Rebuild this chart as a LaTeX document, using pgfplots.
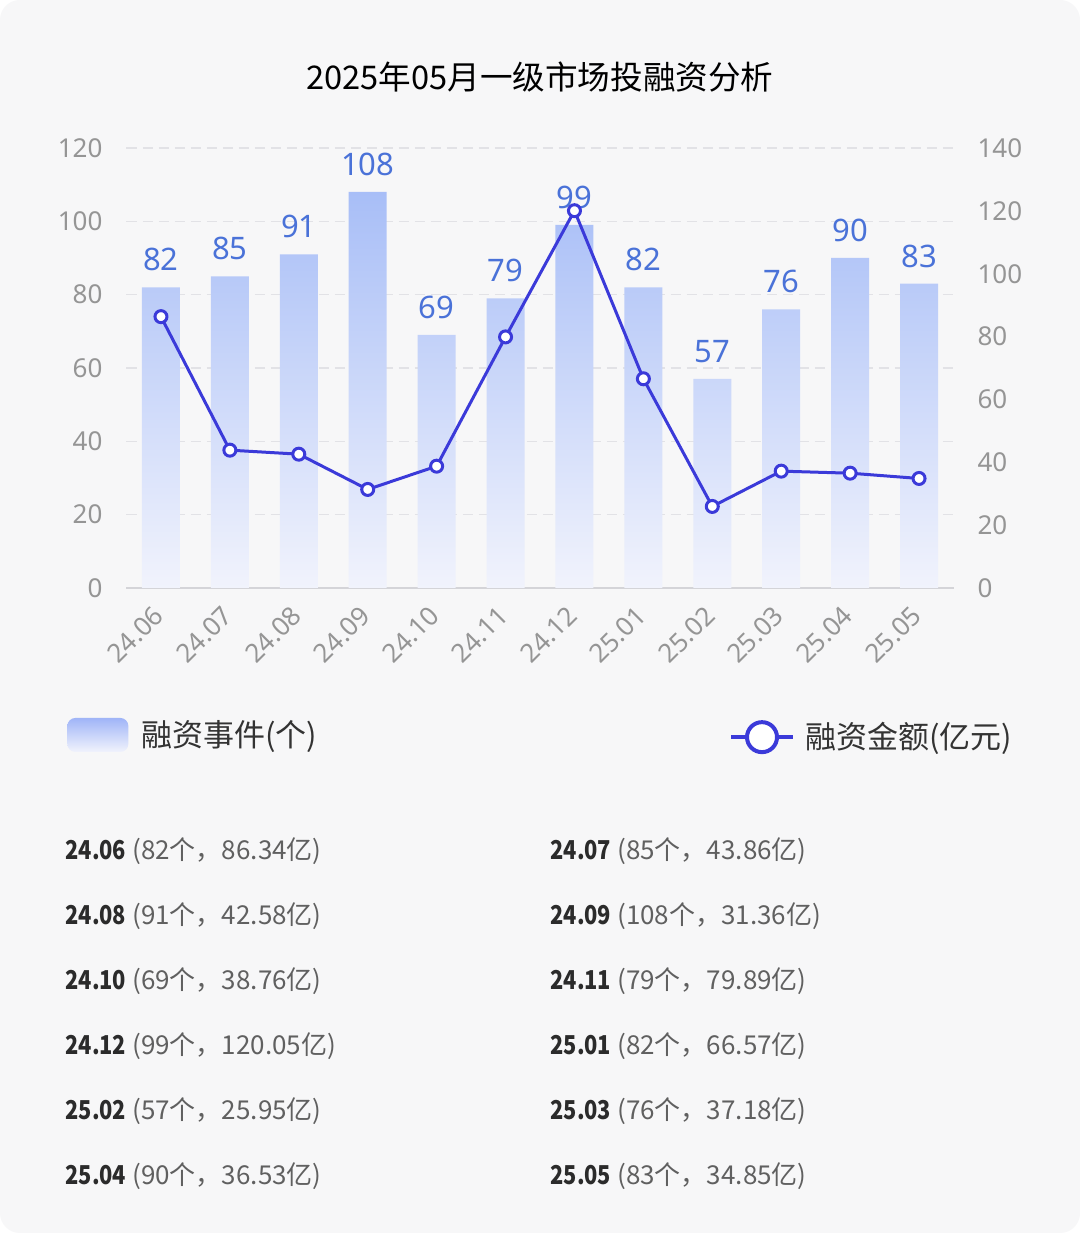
\documentclass[border=0pt]{standalone}
\usepackage{pgfplots}
\pgfplotsset{compat=1.18}
\usepackage{graphicx}
\usepackage{fontspec}
\setmainfont{Noto Sans CJK SC}
\newfontfamily\latin{Noto Sans}

\definecolor{bg}{HTML}{F7F7F8}
\definecolor{bartop}{HTML}{A8BEF7}
\definecolor{barbot}{HTML}{F1F3FC}
\definecolor{lbl}{HTML}{4A72D8}
\definecolor{linec}{HTML}{3B3AD9}
\definecolor{tickc}{HTML}{959595}
\definecolor{gridc}{HTML}{E2E2E6}
\definecolor{basec}{HTML}{D4D4D8}
\definecolor{darkt}{HTML}{2B2B2B}
\definecolor{grayt}{HTML}{606060}
\definecolor{legt}{HTML}{333333}

\pgfplotsset{
  /pgf/number format/assume math mode=true,
  chartbase/.style={
    at={(63.25pt,322.5pt)}, anchor=south west,
    scale only axis, width=413.5pt, height=220pt,
    xmin=-0.5, xmax=11.5,
    major tick length=0pt,
    tick style={draw=none},
    ticklabel style={font=\fontsize{13}{15}\selectfont\latin, text=tickc},
  },
}

% row of the summary table
\newcommand{\row}[3]{%
  \node[anchor=west, inner sep=0pt] at (#1) {%
    \scalebox{0.84}[1]{\fontsize{13}{15}\selectfont\bfseries\color{darkt}#2}\hspace{3pt}%
    {\fontsize{13}{15}\selectfont\color{grayt}#3}};}

\begin{document}
\begin{tikzpicture}
\fill[white] (0,0) rectangle (540pt,616.5pt);
\fill[bg, rounded corners=10pt] (0,0) rectangle (540pt,616.5pt);

\node[font=\fontsize{16.3}{20}\selectfont, text=black] at (270pt,578pt)
  {2025年05月一级市场投融资分析};

% bars: number of deals (left axis)
\begin{axis}[chartbase,
  ymin=0, ymax=120, ytick={0,20,...,120},
  axis lines*=left,
  axis line style={-},
  y axis line style={draw=none},
  x axis line style={draw=basec, line width=1pt},
  ymajorgrids,
  grid style={gridc, dash pattern=on 5pt off 3pt, line width=0.6pt},
  yticklabel style={xshift=-8.5pt},
  xtick={0,...,11},
  xticklabels={24.06,24.07,24.08,24.09,24.10,24.11,24.12,25.01,25.02,25.03,25.04,25.05},
  xticklabel style={inner sep=0pt, anchor=east, xshift=-1pt, yshift=-11.5pt, rotate=45},
  ybar, bar width=19pt,
  nodes near coords,
  nodes near coords style={font=\fontsize{15.5}{18}\selectfont\latin, text=lbl, yshift=4.5pt},
  legend style={at={(-0.072,-0.334)}, anchor=west, draw=none, fill=none,
    inner sep=0pt, font=\fontsize{15.5}{18}\selectfont, text=legt,
    column sep=4.5pt},
  legend image code/.code={%
    \shade[top color=bartop!95!blue, bottom color=barbot, rounded corners=4pt]
      (0pt,-8.5pt) rectangle (30.5pt,8.5pt);},
]
\addplot[draw=none, top color=bartop, bottom color=barbot] coordinates {
  (0,82) (1,85) (2,91) (3,108) (4,69) (5,79)
  (6,99) (7,82) (8,57) (9,76) (10,90) (11,83)
};
\addlegendentry{融资事件(个)}
\end{axis}

% line: amount raised, 100 million yuan (right axis)
\begin{axis}[chartbase,
  ymin=0, ymax=140, ytick={0,20,...,140},
  axis x line=none, xtick=\empty,
  axis y line*=right,
  y axis line style={draw=none},
  yticklabel style={xshift=8.5pt},
  legend style={at={(1.076,-0.339)}, anchor=east, draw=none, fill=none,
    inner sep=0pt, font=\fontsize{15.5}{18}\selectfont, text=legt,
    column sep=3pt},
  legend image code/.code={%
    \draw[linec, line width=2pt] (0pt,0pt) -- (31pt,0pt);
    \draw[linec, line width=2pt, fill=white] (15.5pt,0pt) circle (7.5pt);},
]
\addplot[linec, line width=1.5pt, mark=*, mark size=3pt,
  mark options={fill=white, line width=1.5pt}] coordinates {
  (0,86.34) (1,43.86) (2,42.58) (3,31.36) (4,38.76) (5,79.89)
  (6,120.05) (7,66.57) (8,25.95) (9,37.18) (10,36.53) (11,34.85)
};
\addlegendentry{融资金额(亿元)}
\end{axis}

% summary table
\row{32.5pt,191pt}{24.06}{(82个，86.34亿)}
\row{275pt,191pt}{24.07}{(85个，43.86亿)}
\row{32.5pt,158.5pt}{24.08}{(91个，42.58亿)}
\row{275pt,158.5pt}{24.09}{(108个，31.36亿)}
\row{32.5pt,126pt}{24.10}{(69个，38.76亿)}
\row{275pt,126pt}{24.11}{(79个，79.89亿)}
\row{32.5pt,93.5pt}{24.12}{(99个，120.05亿)}
\row{275pt,93.5pt}{25.01}{(82个，66.57亿)}
\row{32.5pt,61pt}{25.02}{(57个，25.95亿)}
\row{275pt,61pt}{25.03}{(76个，37.18亿)}
\row{32.5pt,28.5pt}{25.04}{(90个，36.53亿)}
\row{275pt,28.5pt}{25.05}{(83个，34.85亿)}
\end{tikzpicture}
\end{document}
